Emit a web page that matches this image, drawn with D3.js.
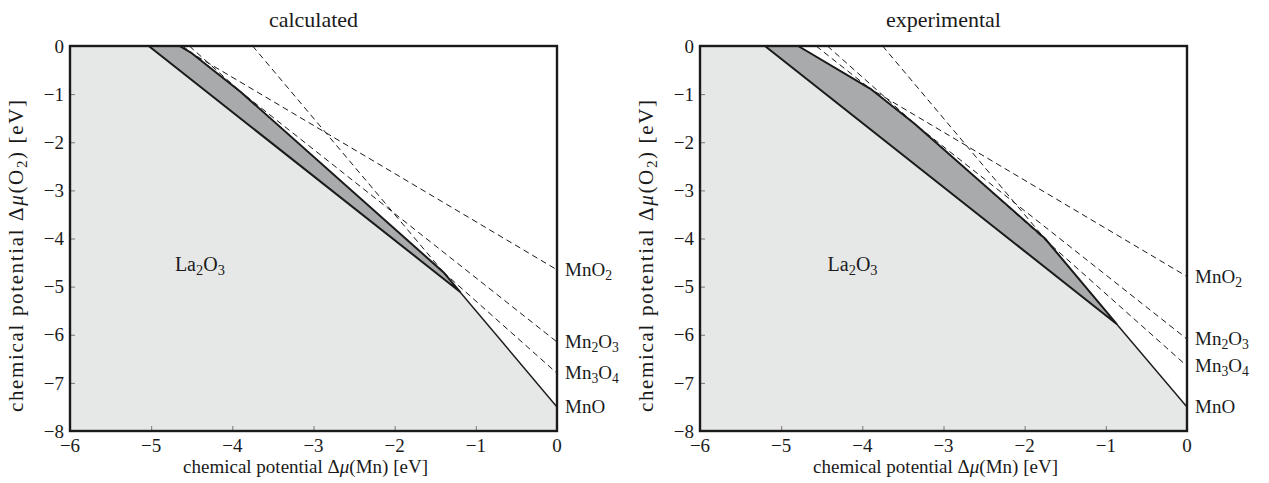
<!DOCTYPE html>
<html>
<head>
	<meta charset="utf-8">
	<title>stability diagram</title>
	<script src="https://d3js.org/d3.v7.min.js"></script>
	<style>
		body { margin: 0; background: #fff; }
	</style>
</head>
<body>
	<svg id="chart" width="1269" height="483" font-family="'Liberation Serif', 'DejaVu Serif', serif"></svg>
<script type="text/javascript">
	// axis ticks
	var xTicks = [-6, -5, -4, -3, -2, -1, 0];
	var yTicks = [0, -1, -2, -3, -4, -5, -6, -7, -8];
	var oxideNames = ['MnO2', 'Mn2O3', 'Mn3O4', 'MnO'];

	// calculated: oxide lines as [mu_Mn, mu_O2] end points (dashed)
	var calcMnO2 = [[-4.65, 0], [0, -4.65]];
	var calcMn2O3 = [[-4.61, 0], [0, -6.15]];
	var calcMn3O4 = [[-4.53, 0], [0, -6.8]];
	var calcMnODash = [[-3.75, 0], [-1.2, -5.1]];
	var calcMnOSolid = [[-1.2, -5.1], [0, -7.5]];
	var calcLaMnO3 = [[-4.65, 0], [-4.5, -0.15], [-3.9, -0.95], [-1.4, -4.7], [-1.2, -5.1], [-5.03, 0]];
	var calcLa2O3 = [[-6, 0], [-5.03, 0], [-1.2, -5.1], [0, -7.5], [0, -8], [-6, -8]];
	var calcLabel = [-4.4, -4.55];

	// experimental
	var expMnO2 = [[-4.79, 0], [0, -4.79]];
	var expMn2O3 = [[-4.57, 0], [0, -6.09]];
	var expMn3O4 = [[-4.43, 0], [0, -6.65]];
	var expMnODash = [[-3.75, 0], [-0.87, -5.77]];
	var expMnOSolid = [[-0.87, -5.77], [0, -7.5]];
	var expLaMnO3 = [[-4.79, 0], [-3.9, -0.89], [-3.36, -1.61], [-1.75, -4.0], [-0.87, -5.77], [-5.2, 0]];
	var expLa2O3 = [[-6, 0], [-5.2, 0], [-0.87, -5.77], [0, -7.5], [0, -8], [-6, -8]];
	var expLabel = [-4.12, -4.55];

	var svg = d3.select('#chart');
	var ink = '#1a1a1a';

	// writes a chemical formula, digits go to subscript
	function formula(textNode, str, size) {
		var shifted = false;
		str.split(/(\d)/).forEach(function(part) {
			if(part === '') return;
			var isSub = /\d/.test(part);
			var t = textNode.append('tspan').text(part);
			if(isSub) {
				t.attr('font-size', size * 0.72).attr('dy', shifted ? 0 : 4);
				shifted = true;
			} else {
				t.attr('font-size', size);
				if(shifted) { t.attr('dy', -4); shifted = false; }
			}
		});
	}

	function drawPanel(opts) {
		var x = d3.scaleLinear().domain([-6, 0]).range([opts.left, opts.left + 487]);
		var y = d3.scaleLinear().domain([0, -8]).range([46, 431]);
		var line = d3.line().x(function(d) { return x(d[0]); }).y(function(d) { return y(d[1]); });
		var g = svg.append('g');

		// regions
		g.append('path').attr('d', line(opts.la2o3) + 'Z').attr('fill', '#e6e7e7');
		g.append('path').attr('d', line(opts.lamno3) + 'Z').attr('fill', '#a9aaac');

		// oxide limits
		[opts.mno2, opts.mn2o3, opts.mn3o4, opts.mnoDash].forEach(function(l) {
			g.append('path').attr('d', line(l))
				.attr('fill', 'none').attr('stroke', ink)
				.attr('stroke-width', 1).attr('stroke-dasharray', '6,4');
		});
		g.append('path').attr('d', line(opts.mnoSolid))
			.attr('fill', 'none').attr('stroke', ink).attr('stroke-width', 1.4);

		g.append('path').attr('d', line(opts.lamno3) + 'Z')
			.attr('fill', 'none').attr('stroke', ink)
			.attr('stroke-width', 2).attr('stroke-linejoin', 'round');

		// ticks pointing inwards
		g.append('g').attr('transform', 'translate(0,431)')
			.call(d3.axisTop(x).tickValues(xTicks).tickSize(5).tickFormat(''))
			.call(function(a) { a.select('.domain').remove(); a.selectAll('line').attr('stroke', '#777'); });
		g.append('g').attr('transform', 'translate(' + opts.left + ',0)')
			.call(d3.axisRight(y).tickValues(yTicks).tickSize(5).tickFormat(''))
			.call(function(a) { a.select('.domain').remove(); a.selectAll('line').attr('stroke', '#777'); });

		// frame
		g.append('rect').attr('x', x(-6)).attr('y', y(0))
			.attr('width', x(0) - x(-6)).attr('height', y(-8) - y(0))
			.attr('fill', 'none').attr('stroke', ink).attr('stroke-width', 2.4);

		// tick labels
		g.selectAll('.xt').data(xTicks).enter().append('text')
			.attr('x', function(d) { return x(d); }).attr('y', 452)
			.attr('text-anchor', 'middle').attr('font-size', 19).attr('fill', ink)
			.text(function(d) { return d === 0 ? '0' : '\u2212' + Math.abs(d); });
		g.selectAll('.yt').data(yTicks).enter().append('text')
			.attr('x', opts.left - 6).attr('y', function(d) { return y(d); })
			.attr('dy', '0.35em').attr('fill', ink)
			.attr('text-anchor', 'end').attr('font-size', 19)
			.text(function(d) { return d === 0 ? '0' : '\u2212' + Math.abs(d); });

		// title
		g.append('text').attr('x', (x(-6) + x(0)) / 2).attr('y', 27).attr('fill', ink)
			.attr('text-anchor', 'middle').attr('font-size', 22).text(opts.title);

		// axis labels
		var xl = g.append('text').attr('x', (x(-6) + x(0)) / 2 - 8).attr('y', 473).attr('fill', ink)
			.attr('text-anchor', 'middle').attr('font-size', 19);
		xl.append('tspan').text('chemical potential \u0394');
		xl.append('tspan').attr('font-style', 'italic').text('\u03bc');
		xl.append('tspan').text('(Mn) [eV]');

		// the y label is drawn longer in the reference, stretch it a bit
		var yl = g.append('text')
			.attr('transform', 'translate(' + (opts.left - 47) + ',256) rotate(-90)')
			.attr('text-anchor', 'middle').attr('font-size', 21).attr('fill', ink)
			.attr('textLength', 312).attr('lengthAdjust', 'spacing');
		yl.append('tspan').text('chemical potential \u0394');
		yl.append('tspan').attr('font-style', 'italic').text('\u03bc');
		yl.append('tspan').text('(O');
		yl.append('tspan').attr('font-size', 15).attr('dy', 4).text('2');
		yl.append('tspan').attr('dy', -4).text(') [eV]');

		// oxide names at the right edge
		var ends = [opts.mno2[1][1], opts.mn2o3[1][1], opts.mn3o4[1][1], opts.mnoSolid[1][1]];
		oxideNames.forEach(function(name, i) {
			var t = g.append('text').attr('x', x(0) + 8).attr('y', y(ends[i]) + 6).attr('fill', ink);
			formula(t, name, 19);
		});

		var la = g.append('text').attr('x', x(opts.label[0])).attr('y', y(opts.label[1]) + 6)
			.attr('text-anchor', 'middle').attr('fill', ink);
		formula(la, 'La2O3', 20);
	}

	drawPanel({ left: 70, title: 'calculated',
		mno2: calcMnO2, mn2o3: calcMn2O3, mn3o4: calcMn3O4,
		mnoDash: calcMnODash, mnoSolid: calcMnOSolid,
		lamno3: calcLaMnO3, la2o3: calcLa2O3, label: calcLabel });

	drawPanel({ left: 700, title: 'experimental',
		mno2: expMnO2, mn2o3: expMn2O3, mn3o4: expMn3O4,
		mnoDash: expMnODash, mnoSolid: expMnOSolid,
		lamno3: expLaMnO3, la2o3: expLa2O3, label: expLabel });
</script>
</body>
</html>
